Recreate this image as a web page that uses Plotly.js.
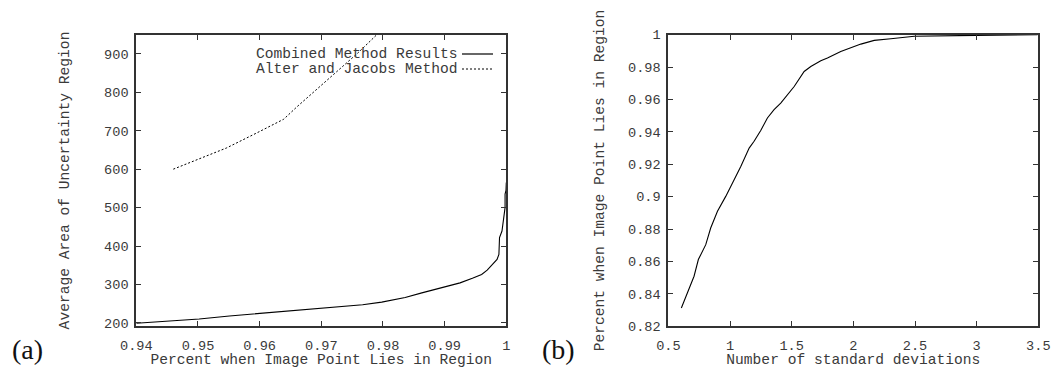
<!DOCTYPE html>
<html>
<head>
<meta charset="utf-8">
<script src="https://cdn.plot.ly/plotly-3.0.1.min.js"></script>
<style>html,body{margin:0;padding:0;background:#fff;}#chart{width:1054px;height:368px;}</style>
</head>
<body>
<div id="chart"></div>
<script>
// Panel (a): Average area of uncertainty region vs. percent when image point lies in region
const combinedX = [0.9400, 0.9450, 0.9502, 0.9551, 0.9601, 0.9650, 0.9699, 0.9767, 0.9798, 0.9836, 0.9863, 0.9892, 0.9925, 0.9945, 0.9960, 0.9969, 0.9977, 0.9985, 0.9988, 0.9989, 0.9993, 0.9996, 0.9998, 0.9998, 0.99995, 1.0000];
const combinedY = [199, 204, 210, 218, 225, 232, 239, 247, 254, 266, 278, 290, 304, 316, 326, 337, 352, 365, 378, 422, 439, 470, 500, 535, 545, 565];
const alterX = [0.9460, 0.9502, 0.9546, 0.9595, 0.9639, 0.9661, 0.9683, 0.9721, 0.9759, 0.9790];
const alterY = [600, 626, 655, 694, 730, 763, 794, 846, 902, 950];
const seriesNames = ["Combined Method Results", "Alter and Jacobs Method"];

// Panel (b): Percent when image point lies in region vs. number of standard deviations
const sdX = [0.605, 0.654, 0.708, 0.743, 0.803, 0.843, 0.898, 0.965, 1.006, 1.087, 1.155, 1.195, 1.250, 1.303, 1.357, 1.411, 1.520, 1.601, 1.655, 1.736, 1.790, 1.898, 2.061, 2.169, 2.304, 2.494, 2.994, 3.494];
const sdY = [0.8313, 0.8406, 0.8509, 0.8612, 0.8704, 0.8807, 0.8910, 0.9002, 0.9064, 0.9187, 0.9300, 0.9342, 0.9410, 0.9486, 0.9537, 0.9578, 0.9680, 0.9773, 0.9804, 0.9839, 0.9856, 0.9897, 0.9942, 0.9965, 0.9975, 0.9990, 0.9996, 1.0000];

const titlesA = {x: "Percent when Image Point Lies in Region", y: "Average Area of Uncertainty Region"};
const titlesB = {x: "Number of standard deviations", y: "Percent when Image Point Lies in Region"};
const panelLabels = ["(a)", "(b)"];

const W = 1054, H = 368;
const mono = "Liberation Mono, Courier New, monospace";
const textCol = "#3a3a3a";
const px = v => v / W, py = v => 1 - v / H;

const traces = [
  {x: combinedX, y: combinedY, name: seriesNames[0], type: "scatter", mode: "lines",
   line: {color: "#000", width: 1.1}, xaxis: "x", yaxis: "y", showlegend: false},
  {x: alterX, y: alterY, name: seriesNames[1], type: "scatter", mode: "lines",
   line: {color: "#000", width: 1, dash: "2px,2px"}, xaxis: "x", yaxis: "y", showlegend: false},
  {x: sdX, y: sdY, name: "Percent", type: "scatter", mode: "lines",
   line: {color: "#000", width: 1.1}, xaxis: "x2", yaxis: "y2", showlegend: false}
];

const axisCommon = {
  showline: true, linecolor: "#333", linewidth: 2, mirror: "ticks",
  ticks: "inside", ticklen: 5, tickwidth: 1, tickcolor: "#333",
  showgrid: false, zeroline: false,
  tickfont: {family: mono, size: 13.6, color: textCol}
};
const titleFont = {family: mono, size: 14.6, color: textCol};

const layout = {
  width: W, height: H,
  margin: {l: 0, r: 0, t: 0, b: 0},
  paper_bgcolor: "#fff", plot_bgcolor: "#fff",
  showlegend: false,
  xaxis: Object.assign({}, axisCommon, {
    domain: [px(136.3), px(506.3)], range: [0.94, 1.0], tick0: 0.94, dtick: 0.01,
    anchor: "y", ticklabelstandoff: 5, title: {text: titlesA.x, font: titleFont, standoff: 4}
  }),
  yaxis: Object.assign({}, axisCommon, {
    domain: [py(326.3), py(34.7)], range: [191, 950], tick0: 200, dtick: 100,
    anchor: "x", ticklabelstandoff: 3, title: {text: titlesA.y, font: titleFont, standoff: 31}
  }),
  xaxis2: Object.assign({}, axisCommon, {
    domain: [px(668.4), px(1038.3)], range: [0.5, 3.5], tick0: 0.5, dtick: 0.5,
    anchor: "y2", ticklabelstandoff: 5, title: {text: titlesB.x, font: titleFont, standoff: 4}
  }),
  yaxis2: Object.assign({}, axisCommon, {
    domain: [py(326.3), py(34.7)], range: [0.82, 1.0], tick0: 0.82, dtick: 0.02,
    anchor: "x2", ticklabelstandoff: 3, title: {text: titlesB.y, font: titleFont, standoff: 20}
  }),
  annotations: [
    {text: panelLabels[0], xref: "paper", yref: "paper", x: px(27), y: py(349),
     xanchor: "center", yanchor: "middle", showarrow: false,
     font: {family: "Liberation Serif, DejaVu Serif, serif", size: 28, color: "#111"}},
    {text: panelLabels[1], xref: "paper", yref: "paper", x: px(558), y: py(349),
     xanchor: "center", yanchor: "middle", showarrow: false,
     font: {family: "Liberation Serif, DejaVu Serif, serif", size: 28, color: "#111"}},
    {text: seriesNames[0], xref: "paper", yref: "paper", x: px(458.5), y: py(54),
     xanchor: "right", yanchor: "middle", showarrow: false, font: titleFont},
    {text: seriesNames[1], xref: "paper", yref: "paper", x: px(458.5), y: py(69),
     xanchor: "right", yanchor: "middle", showarrow: false, font: titleFont}
  ],
  shapes: [
    {type: "line", xref: "paper", yref: "paper", x0: px(462), x1: px(493), y0: py(54), y1: py(54),
     line: {color: "#000", width: 1.2}},
    {type: "line", xref: "paper", yref: "paper", x0: px(462), x1: px(493), y0: py(69), y1: py(69),
     line: {color: "#000", width: 1, dash: "2px,2px"}}
  ]
};

Plotly.newPlot("chart", traces, layout, {displayModeBar: false, staticPlot: true});
</script>
</body>
</html>
